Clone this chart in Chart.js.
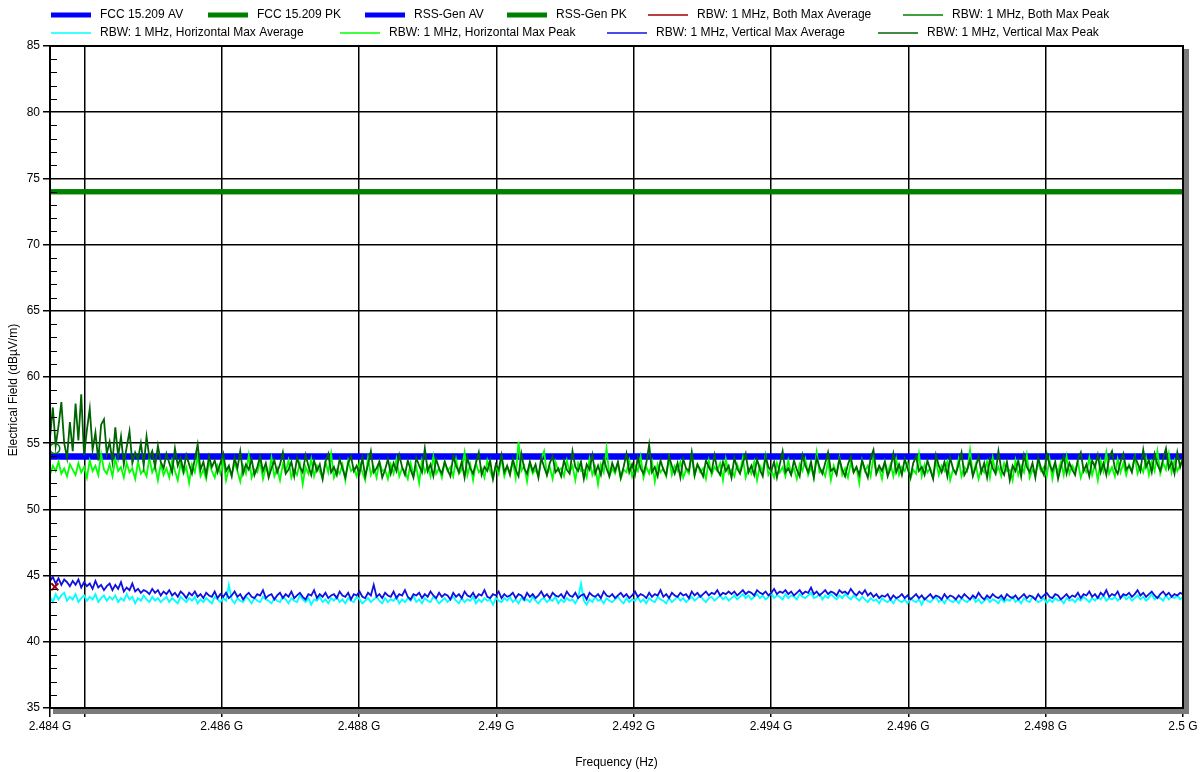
<!DOCTYPE html>
<html>
<head>
<meta charset="utf-8">
<script src="https://cdn.jsdelivr.net/npm/chart.js@4/dist/chart.umd.min.js"></script>
<style>
  html, body { margin: 0; padding: 0; background: #fff; }
  #wrap { width: 1204px; height: 772px; }
</style>
</head>
<body>
<div id="wrap"><canvas id="emiChart" width="1204" height="772"></canvas></div>
<script>
// --- datos --- //

const sweepStartHz = 2.4835e9;
const sweepStopHz = 2.5e9;

const limitAvg = 54;   // FCC 15.209 AV / RSS-Gen AV
const limitPk = 74;    // FCC 15.209 PK / RSS-Gen PK

const xTickValues = [2.4835e9, 2.484e9, 2.486e9, 2.488e9, 2.490e9, 2.492e9, 2.494e9, 2.496e9, 2.498e9, 2.500e9];
const xTickLabels = ['2.484 G', '', '2.486 G', '2.488 G', '2.49 G', '2.492 G', '2.494 G', '2.496 G', '2.498 G', '2.5 G'];

// RBW: 1 MHz, Vertical Max Peak
const vertPeak = [
  55.4, 57.7, 54.8, 56.3, 58.1, 55.0, 53.9, 56.6, 54.4, 58.0, 55.2, 58.7, 54.1, 56.0, 57.6, 54.5, 55.8, 53.7, 56.4, 56.8,
  54.2, 55.1, 53.6, 56.2, 54.0, 55.5, 53.4, 54.7, 55.9, 53.5, 54.3, 53.8, 55.0, 53.3, 55.5, 53.9, 54.4, 53.2, 54.8, 53.6,
  53.1, 54.2, 53.5, 52.8, 54.6, 53.3, 53.9, 52.9, 54.1, 53.4, 52.7, 53.8, 54.9, 53.0, 53.6, 52.6, 54.0, 53.2, 53.7, 52.8,
  53.5, 54.2, 52.9, 53.3, 52.5, 53.9, 53.1, 54.4, 52.7, 53.4, 53.0, 53.8, 52.6, 53.2, 54.0, 52.9, 53.5, 52.4, 53.1, 53.7,
  52.8, 53.4, 54.3, 52.7, 53.0, 53.6, 52.5, 53.9, 53.2, 52.8, 54.1, 53.3, 52.6, 53.7, 52.9, 53.4, 52.3, 53.6, 54.2, 52.8,
  53.2, 52.6, 53.8, 53.1, 52.4, 53.5, 54.0, 52.9, 53.3, 52.7, 53.9, 52.5, 53.4, 54.4, 52.8, 53.1, 53.6, 52.4, 53.0, 53.8,
  52.7, 53.5, 52.9, 54.1, 53.2, 52.6, 53.7, 53.0, 52.4, 53.9, 53.3, 52.8, 54.6, 52.9, 53.4, 52.5, 53.8, 53.1, 52.7, 53.6,
  53.0, 52.5, 54.0, 53.3, 52.8, 53.6, 52.4, 53.9, 53.1, 52.7, 53.5, 54.3, 52.6, 53.2, 52.9, 53.7, 52.3, 53.4, 53.0, 54.1,
  52.8, 53.3, 52.6, 53.8, 53.0, 52.5, 54.2, 53.1, 52.7, 53.6, 52.9, 53.4, 52.4, 53.9, 53.2, 52.6, 53.5, 54.0, 52.8, 53.1,
  52.5, 53.7, 53.0, 52.7, 54.4, 53.2, 52.9, 53.6, 52.3, 53.4, 53.0, 54.1, 52.7, 53.3, 52.6, 53.8, 53.1, 52.5, 53.5, 52.9,
  53.6, 52.4, 53.2, 54.2, 52.8, 53.4, 52.6, 53.9, 53.1, 52.7, 53.5, 54.9, 52.8, 53.2, 52.5, 53.7, 53.0, 52.6, 54.0, 53.3,
  52.7, 53.5, 52.4, 53.8, 53.1, 52.9, 54.3, 52.6, 53.4, 53.0, 52.5, 53.7, 53.2, 52.8, 54.1, 53.0, 52.6, 53.6, 52.9, 53.3,
  52.4, 53.9, 53.1, 52.7, 53.5, 54.2, 52.8, 53.3, 52.6, 53.8, 53.0, 52.5, 54.0, 53.2, 52.9, 53.6, 52.4, 53.4, 54.4, 52.8,
  53.1, 52.6, 53.7, 53.0, 52.5, 54.1, 53.3, 52.8, 53.6, 52.4, 53.9, 53.2, 52.7, 53.5, 54.3, 52.9, 53.1, 52.6, 53.8, 53.0,
  52.5, 53.4, 54.0, 52.8, 53.2, 52.6, 53.7, 53.0, 52.4, 53.9, 54.5, 52.7, 53.3, 52.9, 53.6, 52.5, 53.1, 54.2, 52.8, 53.4,
  52.6, 53.8, 53.1, 52.4, 53.5, 54.0, 52.9, 53.2, 52.6, 53.7, 53.0, 52.3, 54.1, 53.3, 52.8, 53.6, 52.5, 53.9, 53.1, 52.7,
  53.4, 54.3, 52.6, 53.0, 53.7, 52.5, 53.2, 54.0, 52.8, 53.5, 52.4, 53.8, 53.1, 52.7, 54.4, 53.0, 52.6, 53.6, 52.2, 53.3,
  52.9, 53.7, 52.5, 54.1, 53.2, 52.8, 53.5, 52.4, 53.9, 53.1, 52.6, 54.2, 53.4, 52.9, 53.6, 52.3, 53.2, 54.0, 52.7, 53.5,
  53.0, 52.6, 53.8, 54.3, 52.9, 53.4, 52.5, 53.7, 53.2, 54.1, 52.8, 53.5, 52.6, 53.9, 54.4, 53.1, 52.7, 53.6, 54.2, 53.0,
  53.3, 52.8, 54.0, 53.5, 52.9, 54.5, 53.2, 53.7, 52.8, 54.2, 53.4, 52.9, 53.8, 54.6, 53.1, 53.6, 52.7, 54.3, 53.2, 53.9
];

// RBW: 1 MHz, Horizontal Max Peak
const horizPeak = [
  52.6, 53.3, 52.9, 53.6, 52.7, 53.1, 52.5, 53.4, 53.0, 52.6, 53.5, 52.8, 53.2, 52.4, 53.7, 52.9, 53.3, 52.6, 54.2, 53.0,
  52.7, 53.4, 52.5, 53.8, 52.9, 53.2, 52.4, 53.5, 52.8, 53.1, 52.3, 53.6, 52.7, 53.0, 52.5, 53.9, 52.8, 53.3, 52.2, 53.4,
  52.6, 53.1, 52.4, 53.7, 52.9, 52.2, 53.5, 52.7, 53.2, 52.0, 53.4, 52.8, 54.0, 52.5, 53.0, 52.3, 53.6, 52.9, 52.4, 53.3,
  52.7, 53.8, 52.2, 53.1, 52.6, 53.5, 52.9, 52.1, 53.3, 52.7, 54.1, 52.4, 53.0, 52.8, 53.6, 52.3, 53.2, 52.6, 53.9, 52.5,
  53.1, 52.2, 53.4, 52.8, 53.7, 52.4, 53.0, 52.6, 53.5, 51.9, 53.2, 52.7, 53.8, 52.5, 53.3, 52.9, 52.3, 53.6, 52.8, 54.2,
  52.4, 53.0, 52.7, 53.4, 52.2, 53.7, 52.9, 53.1, 52.5, 53.5, 52.8, 52.2, 53.9, 52.6, 53.2, 52.4, 53.6, 52.9, 53.0, 52.3,
  53.4, 52.7, 53.8, 52.5, 53.1, 52.9, 52.3, 53.5, 52.6, 53.2, 52.0, 53.7, 52.8, 53.3, 52.5, 54.0, 52.7, 53.1, 52.4, 53.6,
  52.9, 53.2, 52.5, 53.8, 52.7, 53.0, 54.3, 52.6, 53.4, 52.2, 53.5, 52.8, 53.1, 52.4, 53.7, 52.9, 52.3, 53.3, 52.7, 53.9,
  52.5, 53.2, 52.8, 53.6, 52.4, 55.1, 52.9, 53.3, 52.1, 53.5, 52.7, 53.0, 52.5, 53.8, 54.4, 52.6, 53.2, 52.3, 53.6, 52.9,
  53.1, 52.5, 53.7, 52.8, 53.3, 52.2, 53.5, 52.9, 53.0, 52.4, 53.8, 52.6, 53.2, 51.9, 53.4, 52.8, 54.6, 52.5, 53.1, 52.7,
  53.5, 52.3, 53.0, 52.8, 53.7, 52.5, 53.3, 52.9, 54.0, 52.4, 53.2, 52.7, 53.6, 52.1, 53.4, 52.8, 53.1, 52.5, 53.9, 52.6,
  53.3, 52.9, 53.6, 52.4, 53.0, 52.7, 54.2, 52.5, 53.4, 52.8, 53.1, 52.3, 53.7, 52.6, 53.2, 52.9, 53.5, 52.2, 53.8, 52.7,
  53.0, 52.5, 53.4, 52.8, 53.9, 52.4, 53.1, 52.7, 53.6, 52.2, 53.3, 52.9, 54.1, 52.6, 53.0, 52.4, 53.5, 52.8, 53.2, 52.5,
  53.7, 52.7, 53.1, 52.3, 53.4, 52.9, 53.8, 52.6, 53.2, 52.4, 54.3, 52.8, 53.0, 52.5, 53.6, 52.2, 53.3, 52.7, 53.9, 52.6,
  53.1, 52.4, 53.5, 52.8, 53.2, 52.0, 53.7, 52.9, 53.3, 52.5, 54.0, 52.7, 53.1, 52.3, 53.6, 52.8, 53.4, 52.5, 53.8, 52.6,
  53.2, 52.9, 53.5, 52.3, 53.0, 52.7, 54.2, 52.5, 53.4, 52.8, 53.1, 52.4, 53.7, 52.6, 53.3, 52.9, 53.6, 52.2, 53.0, 52.7,
  53.8, 52.5, 53.2, 52.9, 54.5, 52.6, 53.4, 52.3, 53.1, 52.8, 53.6, 52.4, 53.9, 52.7, 53.2, 52.5, 53.5, 52.9, 53.0, 52.2,
  53.7, 52.6, 53.3, 52.8, 54.1, 52.4, 53.0, 52.7, 53.5, 52.9, 53.2, 52.5, 53.8, 52.3, 53.4, 52.8, 53.6, 52.6, 54.0, 52.7,
  53.3, 52.9, 53.6, 52.4, 53.1, 52.8, 53.9, 52.6, 53.4, 52.2, 53.7, 52.9, 54.3, 52.7, 53.2, 52.5, 53.8, 52.8, 53.5, 52.6,
  53.4, 52.9, 54.0, 52.7, 53.3, 52.8, 53.9, 52.6, 53.6, 52.9, 54.4, 52.7, 53.5, 53.0, 54.2, 52.8, 53.7, 52.9, 53.4, 53.8
];

// RBW: 1 MHz, Vertical Max Average
const vertAvg = [
  44.6, 44.9, 44.4, 44.8, 44.3, 44.7, 44.5, 44.2, 44.6, 44.3, 44.7, 44.1, 44.5, 44.2, 44.4, 44.0, 44.6, 44.1, 44.3, 43.9,
  44.2, 44.4, 43.9, 44.3, 44.0, 44.5, 43.8, 44.1, 43.9, 44.4, 43.8, 44.0, 43.7, 43.9, 43.8, 43.6, 44.0, 43.7, 43.9, 43.5,
  43.8, 43.6, 43.9, 43.5, 43.7, 43.4, 43.8, 43.6, 43.3, 43.7, 43.5, 43.8, 43.4, 43.6, 43.3, 43.7, 43.5, 43.4, 43.8, 43.3,
  43.6, 43.4, 43.7, 43.3, 43.5, 43.8, 43.4, 43.6, 43.2, 43.5, 43.7, 43.4, 43.3, 43.6, 43.5, 43.9, 43.3, 43.5, 43.6, 43.2,
  43.5, 43.7, 43.3, 43.6, 43.4, 43.8, 43.3, 43.5, 43.7, 43.4, 43.2, 43.6, 43.5, 43.9, 43.3, 43.6, 43.4, 43.7, 43.3, 43.5,
  43.6, 43.3, 43.8, 43.5, 43.4, 43.7, 43.2, 43.6, 43.5, 43.8, 43.4, 43.3, 43.7, 43.5, 44.3, 43.4, 43.6, 43.3, 43.7, 43.5,
  43.4, 43.8, 43.3, 43.6, 43.5, 43.9, 43.4, 43.2, 43.6, 43.5, 43.7, 43.3, 43.6, 43.4, 43.8, 43.5, 43.3, 43.7, 43.4, 43.6,
  43.5, 43.2, 43.7, 43.4, 43.6, 43.3, 43.8, 43.5, 43.4, 43.7, 43.3, 43.6, 43.5, 43.9, 43.4, 43.3, 43.6, 43.5, 43.8, 43.3,
  43.6, 43.4, 43.5, 43.7, 43.3, 43.6, 43.5, 43.2, 43.7, 43.4, 43.6, 43.3, 43.5, 43.8, 43.4, 43.6, 43.3, 43.7, 43.5, 43.4,
  43.6, 43.3, 43.8, 43.5, 43.4, 43.7, 43.3, 43.5, 43.6, 43.2, 43.7, 43.5, 43.4, 43.6, 43.3, 43.8, 43.5, 43.4, 43.6, 43.3,
  43.5, 43.7, 43.4, 43.6, 43.3, 43.5, 43.8, 43.4, 43.6, 43.5, 43.3, 43.7, 43.4, 43.6, 43.5, 43.9, 43.4, 43.6, 43.3, 43.7,
  43.5, 43.4, 43.7, 43.5, 43.6, 43.3, 43.8, 43.5, 43.7, 43.4, 43.6, 43.8, 43.5, 43.7, 43.6, 43.9, 43.5, 43.7, 43.6, 43.8,
  43.6, 43.8, 43.5, 43.7, 43.9, 43.6, 43.8, 43.7, 43.5, 43.9, 43.7, 43.6, 43.8, 43.5, 43.7, 44.0, 43.6, 43.8, 43.7, 43.9,
  43.6, 43.8, 43.5, 43.7, 43.9, 43.6, 43.8, 43.7, 44.1, 43.6, 43.8, 43.5, 43.7, 43.9, 43.6, 43.8, 43.7, 43.5, 43.9, 43.7,
  43.8, 43.6, 44.0, 43.7, 43.5, 43.8, 43.6, 43.9, 43.5, 43.7, 43.4, 43.6, 43.3, 43.5, 43.4, 43.6, 43.2, 43.5, 43.3, 43.4,
  43.6, 43.3, 43.5, 43.2, 43.4, 43.6, 43.3, 43.5, 43.2, 43.4, 43.6, 43.3, 43.5, 43.4, 43.2, 43.6, 43.3, 43.5, 43.4, 43.2,
  43.5, 43.3, 43.6, 43.4, 43.2, 43.5, 43.3, 43.7, 43.4, 43.2, 43.5, 43.3, 43.6, 43.4, 43.3, 43.5, 43.2, 43.6, 43.4, 43.3,
  43.5, 43.2, 43.4, 43.6, 43.3, 43.5, 43.4, 43.2, 43.6, 43.3, 43.5, 43.7, 43.4, 43.3, 43.6, 43.5, 43.2, 43.4, 43.6, 43.3,
  43.5, 43.4, 43.7, 43.3, 43.6, 43.5, 43.8, 43.4, 43.6, 43.3, 43.7, 43.5, 43.9, 43.4, 43.6, 43.5, 43.8, 43.3, 43.6, 43.5,
  43.7, 43.4, 43.6, 43.9, 43.5, 43.7, 43.4, 43.6, 43.8, 43.5, 43.3, 43.6, 43.8, 43.5, 43.7, 43.4, 43.6, 43.5, 43.7, 43.6
];

// RBW: 1 MHz, Horizontal Max Average
const horizAvg = [
  43.4, 43.0, 43.6, 43.2, 43.5, 43.7, 43.1, 43.4, 43.2, 43.6, 43.0, 43.3, 43.5, 43.1, 43.4, 43.2, 43.6, 43.0, 43.3, 43.5,
  43.1, 43.4, 43.2, 43.5, 43.0, 43.3, 43.1, 43.6, 43.2, 43.4, 42.9, 43.3, 43.1, 43.5, 43.2, 43.0, 43.4, 43.1, 43.3, 43.0,
  43.2, 43.4, 43.0, 43.3, 43.1, 42.9, 43.4, 43.2, 43.0, 43.3, 43.1, 43.4, 42.9, 43.2, 43.0, 43.3, 43.1, 42.9, 43.4, 43.2,
  43.0, 43.3, 43.1, 44.3, 43.2, 42.9, 43.3, 43.1, 43.0, 43.4, 43.2, 42.9, 43.3, 43.1, 43.0, 43.4, 43.2, 43.1, 42.9, 43.3,
  43.1, 43.0, 43.4, 43.2, 42.9, 43.3, 43.1, 43.0, 43.5, 43.2, 43.0, 43.3, 42.8, 43.2, 43.1, 43.4, 43.0, 43.2, 42.9, 43.3,
  43.1, 43.4, 43.0, 43.2, 42.9, 43.3, 43.1, 43.0, 43.4, 43.2, 42.9, 43.1, 43.3, 43.0, 43.2, 43.4, 43.1, 42.9, 43.3, 43.0,
  43.2, 43.1, 43.4, 42.9, 43.2, 43.0, 43.3, 43.1, 43.5, 43.0, 43.2, 42.9, 43.3, 43.1, 43.0, 43.4, 43.2, 42.9, 43.1, 43.3,
  43.0, 43.2, 43.4, 43.1, 42.9, 43.3, 43.0, 43.2, 43.1, 43.4, 42.9, 43.2, 43.0, 43.3, 43.1, 43.2, 42.8, 43.3, 43.1, 43.0,
  43.3, 43.1, 43.4, 43.0, 43.2, 42.9, 43.3, 43.1, 43.2, 43.0, 43.4, 43.1, 42.9, 43.2, 43.3, 43.0, 43.2, 43.1, 43.4, 42.9,
  43.2, 43.0, 43.3, 43.1, 43.2, 42.9, 43.3, 44.4, 43.1, 42.8, 43.2, 43.0, 43.4, 43.1, 43.2, 42.9, 43.3, 43.1, 43.0, 43.2,
  43.4, 43.1, 42.9, 43.3, 43.0, 43.2, 43.1, 43.4, 43.0, 43.2, 42.9, 43.3, 43.1, 43.0, 43.4, 43.2, 43.1, 42.9, 43.3, 43.0,
  43.2, 43.4, 43.1, 43.3, 43.0, 43.2, 43.4, 43.1, 43.3, 43.5, 43.2, 43.0, 43.3, 43.4, 43.1, 43.3, 43.5, 43.2, 43.4, 43.1,
  43.3, 43.5, 43.2, 43.4, 43.6, 43.3, 43.5, 43.2, 43.4, 43.6, 43.3, 43.5, 43.2, 43.4, 43.7, 43.3, 43.5, 43.4, 43.2, 43.6,
  43.3, 43.5, 43.4, 43.2, 43.6, 43.4, 43.3, 43.5, 43.7, 43.3, 43.4, 43.6, 43.2, 43.5, 43.3, 43.6, 43.4, 43.2, 43.5, 43.3,
  43.6, 43.4, 43.2, 43.5, 43.3, 43.1, 43.4, 43.2, 43.0, 43.3, 43.1, 43.2, 42.9, 43.3, 43.1, 43.0, 43.2, 42.9, 43.3, 43.1,
  43.0, 43.2, 42.9, 43.3, 43.1, 43.0, 43.2, 42.8, 43.3, 43.1, 43.0, 43.2, 43.4, 43.0, 43.2, 42.9, 43.3, 43.1, 43.0, 43.2,
  42.9, 43.3, 43.1, 43.0, 43.2, 43.4, 43.0, 43.2, 42.9, 43.1, 43.3, 43.0, 43.2, 43.1, 42.9, 43.3, 43.0, 43.2, 43.1, 43.4,
  43.0, 43.2, 42.9, 43.3, 43.1, 43.0, 43.4, 43.2, 43.0, 43.1, 43.3, 42.9, 43.2, 43.0, 43.3, 43.1, 43.2, 42.9, 43.3, 43.1,
  43.2, 43.0, 43.3, 43.1, 43.4, 43.2, 43.0, 43.3, 43.1, 43.4, 43.2, 43.5, 43.1, 43.3, 43.2, 43.4, 43.1, 43.3, 43.5, 43.2,
  43.4, 43.1, 43.3, 43.5, 43.2, 43.4, 43.1, 43.3, 43.6, 43.2, 43.4, 43.3, 43.1, 43.5, 43.2, 43.4, 43.3, 43.5, 43.2, 43.4
];

// marcadores "Both" (solo un punto visible al inicio)
const bothAvgMarker = [{ x: 2.48357e9, y: 44.15 }];
const bothPeakMarker = [{ x: 2.48357e9, y: 54.6 }];

// --- colores --- //
const colors = {
    limitAv: '#0000FF',
    limitPk: '#008000',
    bothAvg: '#A00000',
    bothPeak: '#008000',
    horizAvg: '#00FFFF',
    horizPeak: '#00FF00',
    vertAvg: '#1010E0',
    vertPeak: '#006400',
    grid: '#000000',
    text: '#000000'
};

const FONT = "'Liberation Sans', Arial, sans-serif";

// eje de frecuencia del barrido
const freqHz = vertPeak.map((_, i) => sweepStartHz + i * (sweepStopHz - sweepStartHz) / (vertPeak.length - 1));
const toXY = (arr) => arr.map((v, i) => ({ x: freqHz[i], y: v }));
const limitLine = (v) => [{ x: sweepStartHz, y: v }, { x: sweepStopHz, y: v }];

// posiciones de la leyenda (2 filas)
const legendSlots = [
    { x: 51, y: 15 }, { x: 208, y: 15 }, { x: 365, y: 15 }, { x: 507, y: 15 }, { x: 648, y: 15 }, { x: 903, y: 15 },
    { x: 51, y: 33 }, { x: 340, y: 33 }, { x: 607, y: 33 }, { x: 878, y: 33 }
];

const legendPlugin = {
    id: 'fixedLegend',
    afterDraw(chart) {
        const { ctx } = chart;
        ctx.save();
        ctx.font = `12px ${FONT}`;
        ctx.textBaseline = 'middle';
        ctx.fillStyle = colors.text;
        chart.data.datasets.forEach((ds, i) => {
            const slot = legendSlots[i];
            if (!slot) return;
            ctx.strokeStyle = ds.borderColor;
            ctx.lineWidth = ds.legendThick ? 5 : 1.5;
            ctx.beginPath();
            ctx.moveTo(slot.x, slot.y);
            ctx.lineTo(slot.x + 40, slot.y);
            ctx.stroke();
            ctx.fillText(ds.label, slot.x + 49, slot.y);
        });

        // título del eje Y
        ctx.translate(14, 390);
        ctx.rotate(-Math.PI / 2);
        ctx.textAlign = 'center';
        ctx.fillText('Electrical Field (dBµV/m)', 0, 0);
        ctx.restore();
    }
};

// marco con sombra gris y marcas menores del eje Y
const framePlugin = {
    id: 'frame',
    afterDatasetsDraw(chart) {
        const { ctx, chartArea: { left, right, top, bottom }, scales: { y } } = chart;
        ctx.save();
        ctx.fillStyle = '#7a7a7a';
        ctx.fillRect(right + 1, top + 3, 5, bottom - top + 3);
        ctx.fillRect(left + 3, bottom + 1, right - left + 3, 5);

        ctx.strokeStyle = '#000';
        ctx.lineWidth = 2;
        ctx.strokeRect(left, top, right - left, bottom - top);

        ctx.lineWidth = 1;
        for (let v = y.min + 1; v < y.max; v++) {
            if (v % 5 === 0) continue;
            const py = Math.round(y.getPixelForValue(v)) + 0.5;
            ctx.beginPath();
            ctx.moveTo(left, py);
            ctx.lineTo(left + 7, py);
            ctx.stroke();
        }
        ctx.restore();
    }
};

function initChart() {
    const el = document.getElementById('emiChart');

    const traceDs = (label, data, color, order) => ({
        label, data: toXY(data), borderColor: color, backgroundColor: color,
        borderWidth: 1.8, pointRadius: 0, fill: false, order
    });

    new Chart(el, {
        type: 'line',
        data: {
            datasets: [
                { label: 'FCC 15.209 AV', data: limitLine(limitAvg), borderColor: colors.limitAv, borderWidth: 6, pointRadius: 0, order: 20, legendThick: true },
                { label: 'FCC 15.209 PK', data: limitLine(limitPk), borderColor: colors.limitPk, borderWidth: 5, pointRadius: 0, order: 20, legendThick: true },
                { label: 'RSS-Gen AV', data: limitLine(limitAvg), borderColor: colors.limitAv, borderWidth: 6, pointRadius: 0, order: 19, legendThick: true },
                { label: 'RSS-Gen PK', data: limitLine(limitPk), borderColor: colors.limitPk, borderWidth: 5, pointRadius: 0, order: 19, legendThick: true },
                { label: 'RBW: 1 MHz, Both Max Average', data: bothAvgMarker, borderColor: colors.bothAvg, backgroundColor: colors.bothAvg,
                  borderWidth: 2, pointStyle: 'crossRot', pointRadius: 5, pointBorderWidth: 2, showLine: false, order: 1 },
                { label: 'RBW: 1 MHz, Both Max Peak', data: bothPeakMarker, borderColor: colors.bothPeak, backgroundColor: 'rgba(0,0,0,0)',
                  borderWidth: 2, pointStyle: 'circle', pointRadius: 5, pointBorderWidth: 1.5, showLine: false, order: 8 },
                traceDs('RBW: 1 MHz, Horizontal Max Average', horizAvg, colors.horizAvg, 6),
                traceDs('RBW: 1 MHz, Horizontal Max Peak', horizPeak, colors.horizPeak, 6),
                traceDs('RBW: 1 MHz, Vertical Max Average', vertAvg, colors.vertAvg, 3),
                traceDs('RBW: 1 MHz, Vertical Max Peak', vertPeak, colors.vertPeak, 3)
            ]
        },
        plugins: [framePlugin, legendPlugin],
        options: {
            responsive: false,
            animation: false,
            events: [],
            layout: { padding: { top: 46, right: 21, left: 0, bottom: 0 } },
            plugins: { legend: { display: false }, tooltip: { enabled: false } },
            scales: {
                x: {
                    type: 'linear',
                    min: sweepStartHz,
                    max: sweepStopHz,
                    afterBuildTicks: (s) => { s.ticks = xTickValues.map(v => ({ value: v })); },
                    afterFit: (s) => { s.height = 64; },
                    ticks: {
                        autoSkip: false, maxRotation: 0, color: colors.text, padding: 2,
                        font: { family: FONT, size: 12 },
                        callback: (v, i) => xTickLabels[i]
                    },
                    grid: { color: colors.grid, lineWidth: 1.5, tickLength: 9 },
                    border: { display: false },
                    title: { display: true, text: 'Frequency (Hz)', color: colors.text, font: { family: FONT, size: 12 }, padding: { top: 0, bottom: 2 } }
                },
                y: {
                    min: 35,
                    max: 85,
                    afterFit: (s) => { s.width = 50; },
                    ticks: { stepSize: 5, color: colors.text, padding: 3, font: { family: FONT, size: 12 } },
                    grid: { color: colors.grid, lineWidth: 1.5, tickLength: 7 },
                    border: { display: false }
                }
            }
        }
    });
}

initChart();
</script>
</body>
</html>
